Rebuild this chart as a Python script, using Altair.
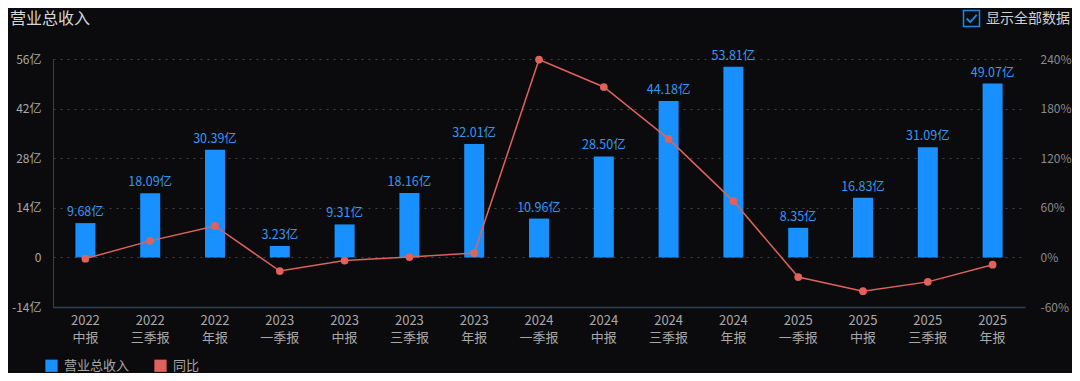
import altair as alt
import pandas as pd

periods = ["2022 中报", "2022 三季报", "2022 年报", "2023 一季报", "2023 中报", "2023 三季报",
           "2023 年报", "2024 一季报", "2024 中报", "2024 三季报", "2024 年报", "2025 一季报",
           "2025 中报", "2025 三季报", "2025 年报"]
revenue = [9.68, 18.09, 30.39, 3.23, 9.31, 18.16, 32.01, 10.96, 28.50, 44.18, 53.81,
           8.35, 16.83, 31.09, 49.07]
yoy = [-1.5, 20.0, 38.0, -16.5, -3.8, 0.4, 5.3, 239.3, 206.1, 143.3, 68.1,
       -23.8, -40.9, -29.6, -8.8]
series_names = ["营业总收入", "同比"]
left_ticks = [-14, 0, 14, 28, 42, 56]
right_ticks = [-60, 0, 60, 120, 180, 240]

BLUE = "#1890ff"
RED = "#e0625c"
FONT = "Noto Sans CJK SC"
BG = "#0b0b0e"

df = pd.DataFrame({"period": periods, "rev": revenue, "yoy": yoy})
df["series"] = series_names[0]
df["label"] = [f"{v:.2f}亿" for v in revenue]

W, H = 972, 248

x_enc = alt.X(
    "period:N", sort=periods,
    scale=alt.Scale(paddingInner=0, paddingOuter=0),
    axis=alt.Axis(title=None, labelAngle=0, ticks=False,
                  labelExpr="split(datum.label, ' ')",
                  labelColor="#a8a8a8", labelFontSize=13, labelLineHeight=17,
                  labelPadding=7, labelBaseline="top",
                  domainColor="#2e4257", domainWidth=1.5, grid=False, labelFont=FONT),
)

base = alt.Chart(df).encode(x=x_enc)

left_scale = alt.Scale(domain=[-14, 56], nice=False, zero=False)
left_axis = alt.Axis(title=None, values=left_ticks, ticks=False,
                     labelExpr="datum.value == 0 ? '0' : datum.value + '亿'",
                     labelColor="#a8a8a8", labelFontSize=12, labelPadding=12,
                     labelFont=FONT,
                     domainColor="#2e4257", domainWidth=1,
                     grid=True, gridDash=[2, 5], gridColor="#444444", gridWidth=1)

bars = base.mark_bar(size=20).encode(
    y=alt.Y("rev:Q", scale=left_scale, axis=left_axis),
    color=alt.Color("series:N",
                    scale=alt.Scale(domain=series_names, range=[BLUE, RED]),
                    legend=alt.Legend(title=None, orient="none", legendX=-8, legendY=300,
                                      direction="horizontal", symbolType="square",
                                      symbolSize=150, symbolStrokeWidth=0,
                                      labelColor="#a8a8a8", labelFontSize=13,
                                      labelFont=FONT, labelOffset=6, columnPadding=24,
                                      padding=0)),
)

labels = base.mark_text(dy=-4, color="#3398f5", fontSize=12.5, font=FONT,
                        baseline="bottom").encode(
    y=alt.Y("rev:Q", scale=left_scale, axis=left_axis),
    text="label:N",
)

left = alt.layer(bars, labels)

line = base.mark_line(color=RED, strokeWidth=1.5,
                      point=alt.OverlayMarkDef(filled=True, size=60, color=RED)).encode(
    y=alt.Y("yoy:Q", scale=alt.Scale(domain=[-60, 240], nice=False, zero=False),
            axis=alt.Axis(title=None, orient="right", values=right_ticks, ticks=False,
                          domain=False, grid=False,
                          labelExpr="datum.value + '%'",
                          labelColor="#8a8a8a", labelFontSize=12, labelPadding=15,
                          labelFont=FONT)),
)

one = alt.Data(values=[{"a": 1}])

title_txt = alt.Chart(one).mark_text(
    text="营业总收入", align="left", baseline="middle", fontSize=16,
    color="#d6d6d6", font=FONT).encode(x=alt.value(-43), y=alt.value(-40))

box = alt.Chart(one).mark_point(
    shape="square", size=256, filled=False, stroke="#1e88e5", strokeWidth=1.5,
    opacity=1).encode(x=alt.value(918.5), y=alt.value(-40.5))

check = alt.Chart(one).mark_point(
    shape="M-0.6,0 L-0.15,0.45 L0.65,-0.45", size=256, filled=False,
    stroke="#1e88e5", strokeWidth=1.8, opacity=1).encode(
    x=alt.value(918.5), y=alt.value(-40.5))

check_txt = alt.Chart(one).mark_text(
    text="显示全部数据", align="left", baseline="middle", fontSize=14,
    color="#d0d0d0", font=FONT).encode(x=alt.value(933), y=alt.value(-40.5))

main = alt.layer(left, line).resolve_scale(y="independent")

chart = alt.layer(main, title_txt, box, check, check_txt).properties(
    width=W, height=H,
    autosize=alt.AutoSizeParams(type="none"),
    padding={"left": 45, "top": 51, "right": 1064 - 45 - W, "bottom": 365 - 51 - H},
    background=BG,
).configure_view(stroke=None)

chart.save("out.html", embed_options={"renderer": "svg", "actions": False})
